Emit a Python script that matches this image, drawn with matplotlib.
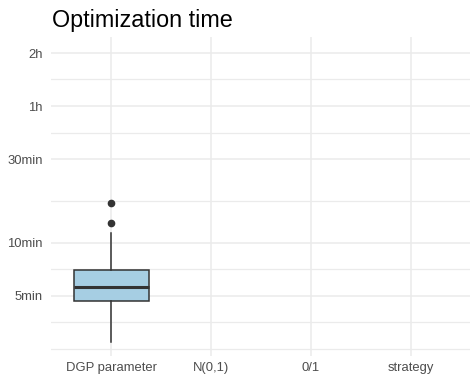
import matplotlib
matplotlib.use("Agg")
import matplotlib.pyplot as plt
import numpy as np

# categories on the x axis; only the first one has data
categories = ["DGP parameter", "N(0,1)", "0/1", "strategy"]

# box stats for "DGP parameter" in minutes
med = 5.6
q1 = 4.7
q3 = 7.0
whislo = 2.74
whishi = 11.4
fliers = [13.0, 16.9]

# y axis (minutes, log scale)
major_ticks = [5, 10, 30, 60, 120]
major_labels = ["5min", "10min", "30min", "1h", "2h"]
minor_ticks = [2.5, 3.54, 7.07, 17.3, 42.4, 84.9]

plt.rcParams["font.family"] = ["Liberation Sans", "DejaVu Sans"]

fig = plt.figure(figsize=(4.7, 3.74), dpi=100)
ax = fig.add_axes([51 / 470, 18 / 374, 420 / 470, 319 / 374])

grid_col = "#ebebeb"
for t in major_ticks:
    ax.axhline(t, color=grid_col, lw=1.1, zorder=0)
for t in minor_ticks:
    ax.axhline(t, color=grid_col, lw=0.9, zorder=0)
for i in range(len(categories)):
    ax.axvline(i + 1, color=grid_col, lw=1.1, zorder=0)

stats = [{"med": med, "q1": q1, "q3": q3, "whislo": whislo, "whishi": whishi,
          "fliers": fliers, "label": categories[0]}]
ax.bxp(stats, positions=[1], widths=0.75, patch_artist=True, showcaps=False,
       boxprops=dict(facecolor="#a6cee3", edgecolor="#333333", lw=1.1),
       whiskerprops=dict(color="#333333", lw=1.1),
       medianprops=dict(color="#333333", lw=2.2),
       flierprops=dict(marker="o", markerfacecolor="#333333",
                       markeredgecolor="#333333", markersize=4.5),
       zorder=3)

ax.set_yscale("log")
ax.set_ylim(2.28, 148)
ax.set_xlim(0.4, 4.6)
ax.yaxis.set_major_locator(matplotlib.ticker.FixedLocator(major_ticks))
ax.yaxis.set_major_formatter(matplotlib.ticker.FixedFormatter(major_labels))
ax.yaxis.set_minor_locator(matplotlib.ticker.NullLocator())
ax.set_xticks(range(1, len(categories) + 1))
ax.set_xticklabels(categories)
ax.tick_params(axis="both", length=0, labelsize=9.4, colors="#4d4d4d")
ax.tick_params(axis="y", pad=6)
ax.tick_params(axis="x", pad=4)
for s in ax.spines.values():
    s.set_visible(False)

fig.text(52 / 470, 1 - 27 / 374, "Optimization time", fontsize=16.8,
         color="black", ha="left", va="baseline")

fig.savefig("out.png", dpi=100)
